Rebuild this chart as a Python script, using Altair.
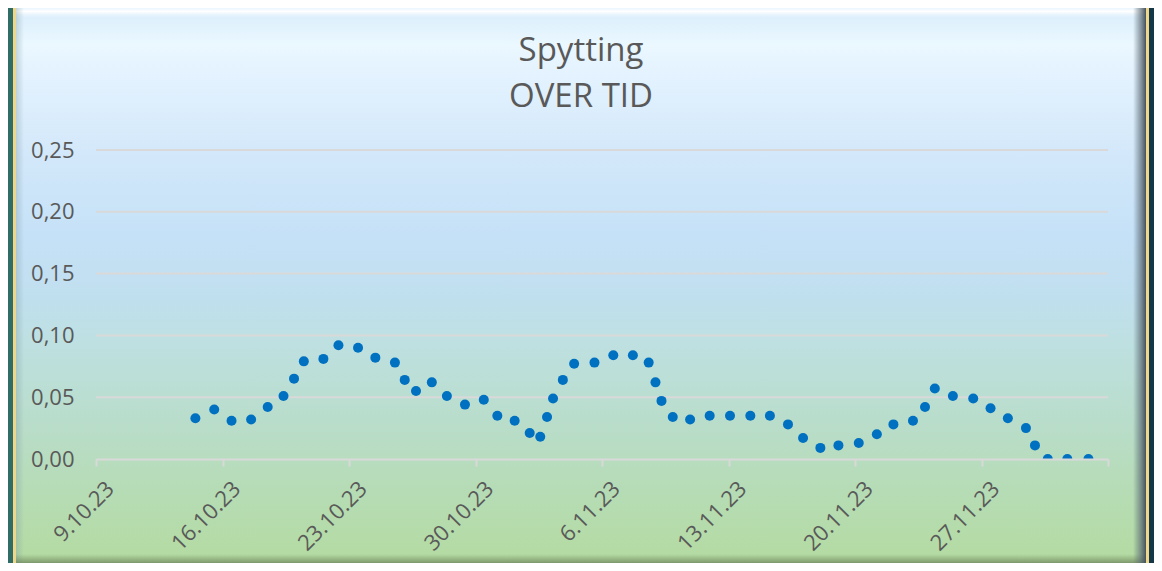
import altair as alt
import pandas as pd

# ---------------- data ----------------
dates = [
    "2023-10-14 12:00", "2023-10-15 13:00", "2023-10-16 12:00", "2023-10-17 14:00",
    "2023-10-18 12:00", "2023-10-19 09:00", "2023-10-19 23:00", "2023-10-20 12:00",
    "2023-10-21 14:00", "2023-10-22 10:00", "2023-10-23 12:00", "2023-10-24 11:00",
    "2023-10-25 13:00", "2023-10-26 02:00", "2023-10-26 17:00", "2023-10-27 14:00",
    "2023-10-28 10:00", "2023-10-29 10:00", "2023-10-30 11:00", "2023-10-31 05:00",
    "2023-11-01 04:00", "2023-11-02 00:00", "2023-11-02 14:00", "2023-11-02 23:00",
    "2023-11-03 07:00", "2023-11-03 20:00", "2023-11-04 11:00", "2023-11-05 14:00",
    "2023-11-06 15:00", "2023-11-07 17:00", "2023-11-08 14:00", "2023-11-08 23:00",
    "2023-11-09 07:00", "2023-11-09 22:00", "2023-11-10 21:00", "2023-11-11 23:00",
    "2023-11-13 02:00", "2023-11-14 05:00", "2023-11-15 07:00", "2023-11-16 07:00",
    "2023-11-17 03:00", "2023-11-18 02:00", "2023-11-19 02:00", "2023-11-20 05:00",
    "2023-11-21 05:00", "2023-11-22 03:00", "2023-11-23 05:00", "2023-11-23 21:00",
    "2023-11-24 10:00", "2023-11-25 10:00", "2023-11-26 13:00", "2023-11-27 12:00",
    "2023-11-28 11:00", "2023-11-29 11:00", "2023-11-29 23:00", "2023-11-30 16:00",
    "2023-12-01 18:00", "2023-12-02 22:00",
]
values = [
    0.033, 0.040, 0.031, 0.032, 0.042, 0.051, 0.065, 0.079,
    0.081, 0.092, 0.090, 0.082, 0.078, 0.064, 0.055, 0.062,
    0.051, 0.044, 0.048, 0.035, 0.031, 0.021, 0.018, 0.034,
    0.049, 0.064, 0.077, 0.078, 0.084, 0.084, 0.078, 0.062,
    0.047, 0.034, 0.032, 0.035, 0.035, 0.035, 0.035, 0.028,
    0.017, 0.009, 0.011, 0.013, 0.020, 0.028, 0.031, 0.042,
    0.057, 0.051, 0.049, 0.041, 0.033, 0.025, 0.011, 0.000,
    0.000, 0.000,
]
week_ticks = ["2023-10-09", "2023-10-16", "2023-10-23", "2023-10-30", "2023-11-06",
              "2023-11-13", "2023-11-20", "2023-11-27", "2023-12-04"]
y_ticks = [0.0, 0.05, 0.10, 0.15, 0.20, 0.25]
grid_levels = [0.05, 0.10, 0.15, 0.20, 0.25]
title_lines = ["Spytting", "OVER TID"]


def ms(s):
    return int(pd.Timestamp(s, tz="UTC").timestamp() * 1000)


df = pd.DataFrame({"t": [ms(d) for d in dates], "v": values})
tick_ms = [ms(d) for d in week_ticks]
end_ms = tick_ms[-1]

# ---------------- layout ----------------
W, H = 1012, 309
PL, PT = 88, 142
TOTAL_W, TOTAL_H = 1146, 555
PR = TOTAL_W - PL - W
PB = TOTAL_H - PT - H
FONT = "Open Sans"
TXT = "#595959"
GRID = "#d9d9d9"

one = pd.DataFrame({"k": [0]})


def deco(x1, x2, y1, y2, **kw):
    return alt.Chart(one).mark_rect(**kw).encode(
        x=alt.value(x1), x2=alt.value(x2), y=alt.value(y1), y2=alt.value(y2)
    )


def grad(stops, horizontal=False):
    return {
        "gradient": "linear",
        "x1": 0, "y1": 0,
        "x2": 1 if horizontal else 0,
        "y2": 0 if horizontal else 1,
        "stops": [{"offset": o, "color": c} for o, c in stops],
    }


outer = deco(-96, 1070, -150, 425,
             fill=grad([(0, "#2f6d66"), (0.5, "#23545a"), (1, "#143747")], horizontal=True))
gold = deco(-83, 1053, -146, 419, fill="#efd68b")
panel = deco(-80, 1050, -143, 416, fill=grad([
    (0.0, "#d8ecfb"), (0.068, "#ebf8ff"), (0.10, "#e6f4ff"), (0.26, "#d3e8fa"),
    (0.41, "#c5e1f7"), (0.52, "#c0dfee"), (0.60, "#bee0e1"), (0.74, "#b9ddcb"),
    (0.85, "#b6dcb8"), (1.0, "#b4dba0"),
]))
top_hl = deco(-80, 1050, -143, -130, fill=grad([
    (0, "#e3f3ff"), (0.35, "#ffffff"), (1, "rgba(216,236,251,0)")]))
left_bv = deco(-80, -72, -143, 416, fill=grad([
    (0, "rgba(120,150,160,0.35)"), (1, "rgba(120,150,160,0)")], horizontal=True))
bottom_bv = deco(-80, 1050, 404, 416, fill=grad([
    (0, "rgba(110,135,90,0)"), (1, "rgba(95,115,80,0.9)")]))
right_bv = deco(1037, 1050, -143, 416, fill=grad([
    (0, "rgba(90,105,115,0)"), (0.5, "rgba(90,105,115,0.55)"), (1, "rgba(70,82,92,1)")],
    horizontal=True))

titles = [
    alt.Chart(one).mark_text(text=title_lines[0], font=FONT, fontSize=33, color=TXT,
                             align="center", baseline="alphabetic").encode(
        x=alt.value(485), y=alt.value(-89)),
    alt.Chart(one).mark_text(text=title_lines[1], font=FONT, fontSize=33, color=TXT,
                             align="center", baseline="alphabetic").encode(
        x=alt.value(485), y=alt.value(-43)),
]

y_scale = alt.Scale(domain=[0, 0.25], nice=False, zero=True)
y_axis = alt.Axis(values=y_ticks, domain=False, ticks=False, grid=False,
                  labelFont=FONT, labelFontSize=22, labelColor=TXT,
                  labelPadding=22, zindex=1,
                  labelExpr="replace(format(datum.value, '.2f'), '.', ',')")

grid = alt.Chart(pd.DataFrame({"v": grid_levels})).mark_rule(color=GRID, strokeWidth=2).encode(
    y=alt.Y("v:Q", title=None, scale=y_scale, axis=y_axis)
)

points = alt.Chart(df).mark_circle(size=100, color="#0070c0", opacity=1, clip=True).encode(
    x=alt.X("t:T", title=None,
            scale=alt.Scale(type="utc", domain=[tick_ms[0], end_ms]),
            axis=alt.Axis(values=tick_ms, grid=False, domainColor=GRID, domainWidth=2,
                          tickColor=GRID, tickWidth=2, tickSize=7,
                          labelAngle=315, labelAlign="right", labelBaseline="middle",
                          labelPadding=19, labelOffset=14, labelFont=FONT, labelFontSize=22,
                          labelColor=TXT, labelOverlap=False, zindex=1,
                          labelExpr=f"datum.value >= {end_ms} ? '' : utcFormat(datum.value, '%-d.%-m.%y')")),
    y=alt.Y("v:Q", title=None, scale=y_scale, axis=y_axis),
)

chart = alt.layer(outer, gold, panel, top_hl, left_bv, bottom_bv, right_bv, *titles, grid, points).properties(
    width=W, height=H,
    padding={"left": PL, "top": PT, "right": PR, "bottom": PB},
    autosize=alt.AutoSizeParams(type="none"),
).configure(background="#24545a").configure_view(stroke=None)

chart.save("out.html", embed_options={"renderer": "svg", "actions": False})
